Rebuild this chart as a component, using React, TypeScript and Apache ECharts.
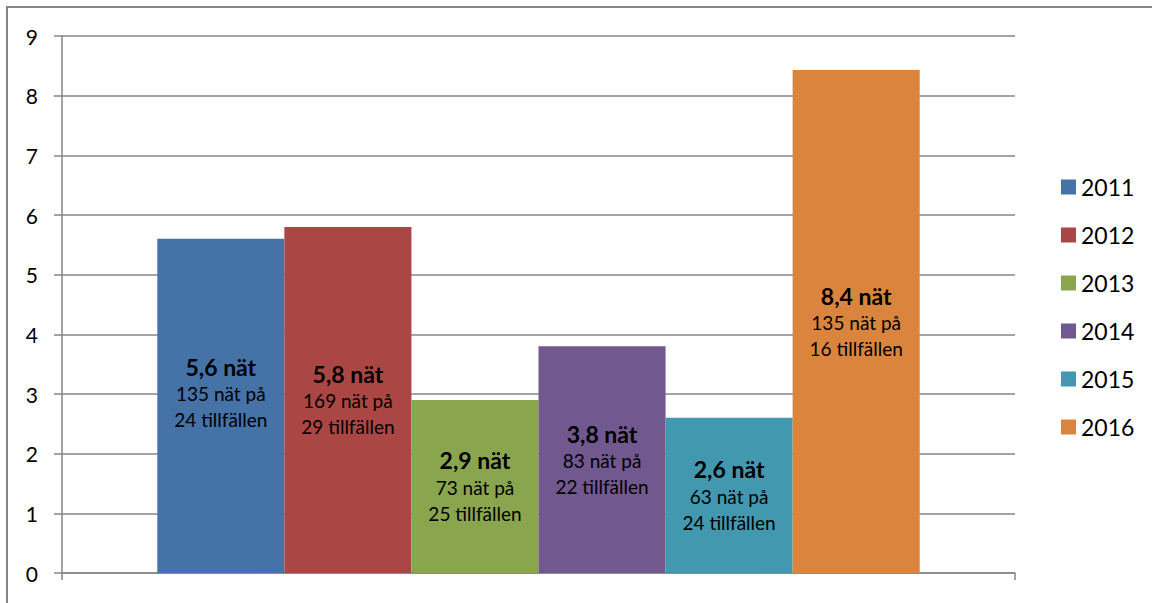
import React, { useEffect, useRef } from "react";
import * as echarts from "echarts";

const years = ["2011", "2012", "2013", "2014", "2015", "2016"];
const values = [5.6, 5.8, 2.9, 3.8, 2.6, 8.43];
const valueLabels = ["5,6", "5,8", "2,9", "3,8", "2,6", "8,4"];
const nets = [135, 169, 73, 83, 63, 135];
const occasions = [24, 29, 25, 22, 24, 16];
const colors = ["#4572A7", "#AA4643", "#89A54E", "#71588F", "#4198AF", "#DB843D"];
const yTicks = [0, 1, 2, 3, 4, 5, 6, 7, 8, 9];

const FONT = "Lato, 'Open Sans', sans-serif";

export default function App() {
  const ref = useRef<HTMLDivElement>(null);
  useEffect(() => {
    const chart = echarts.init(ref.current!, null, { renderer: "svg" });
    chart.setOption({
      animation: false,
      textStyle: { fontFamily: FONT },
      graphic: [
        {
          type: "rect",
          shape: { x: 7, y: 7, width: 1300, height: 800 },
          style: { fill: "none", stroke: "#868686", lineWidth: 2 },
          silent: true,
        },
      ],
      grid: { left: 62, right: 137, top: 36, bottom: 30 },
      legend: {
        orient: "vertical",
        left: 1056,
        top: 168,
        itemWidth: 15,
        itemHeight: 15,
        itemGap: 20,
        icon: "rect",
        data: years,
        textStyle: { fontSize: 23, color: "#000", fontFamily: FONT, lineHeight: 28 },
      },
      xAxis: {
        type: "category",
        data: [""],
        axisLine: { lineStyle: { color: "#868686", width: 1.5 } },
        axisTick: { show: true, length: 7, lineStyle: { color: "#868686", width: 1.5 } },
        axisLabel: { show: false },
      },
      yAxis: {
        type: "value",
        min: 0,
        max: 9,
        interval: 1,
        axisLine: { show: true, lineStyle: { color: "#868686", width: 1.5 } },
        axisTick: { show: true, length: 8, lineStyle: { color: "#868686", width: 1.5 } },
        axisLabel: {
          color: "#000",
          fontSize: 21,
          margin: 24,
          fontFamily: FONT,
          formatter: (v: number) => (yTicks.includes(v) ? String(v) : ""),
        },
        splitLine: { show: true, lineStyle: { color: "#868686", width: 1.5 } },
      },
      series: years.map((y, i) => ({
        name: y,
        type: "bar",
        barGap: "0%",
        barCategoryGap: "20%",
        itemStyle: { color: colors[i] },
        data: [values[i]],
        label: {
          show: true,
          position: "inside",
          offset: i === 0 ? [0, -13] : [0, 0],
          formatter: `{b|${valueLabels[i]} nät}\n{n|${nets[i]} nät på}\n{n|${occasions[i]} tillfällen}`,
          rich: {
            b: { fontSize: 23, fontWeight: "bold", color: "#000", lineHeight: 28, fontFamily: FONT },
            n: { fontSize: 19, color: "#000", lineHeight: 26, fontFamily: FONT },
          },
        },
      })),
    });
    return () => chart.dispose();
  }, []);
  return (
    <div
      ref={ref}
      style={{ position: "absolute", left: 0, top: 0, width: 1152, height: 603, background: "#fff" }}
    />
  );
}
